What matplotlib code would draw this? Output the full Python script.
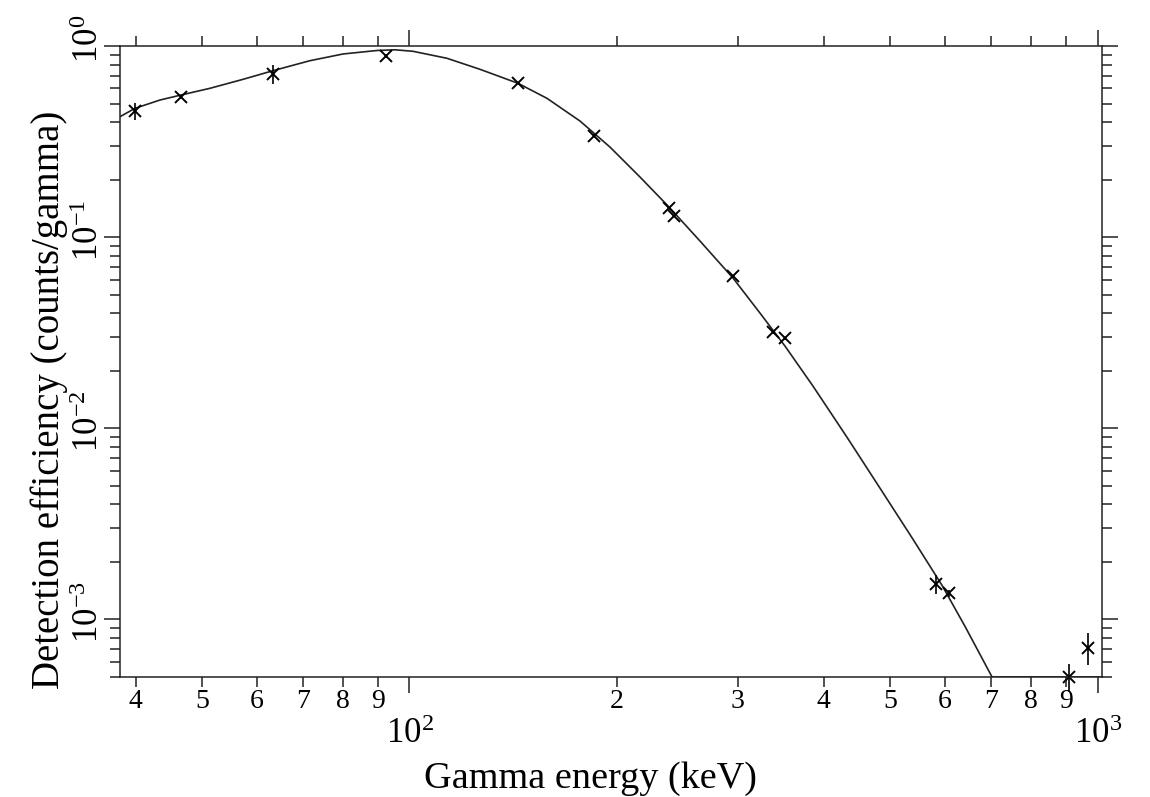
import numpy as np
import matplotlib
matplotlib.use('Agg')
import matplotlib.pyplot as plt
from matplotlib.ticker import LogLocator, FuncFormatter, NullFormatter
from matplotlib.transforms import ScaledTranslation

plt.rcParams['font.family'] = 'Liberation Serif'
plt.rcParams['mathtext.fontset'] = 'custom'
plt.rcParams['mathtext.rm'] = 'Liberation Serif'
plt.rcParams['mathtext.it'] = 'Liberation Serif:italic'

# measured efficiencies (keV, counts/gamma)
energy = [39.9, 46.5, 63.3, 92.4, 143.8, 185.4, 238.4, 242.0, 295.3,
          337.5, 351.5, 582.6, 608.0, 909.0, 969.0]
eff = [0.457, 0.543, 0.711, 0.890, 0.640, 0.340, 0.1419, 0.1288, 0.0625,
       0.0318, 0.0296, 1.535e-3, 1.368e-3, 5.0e-4, 7.13e-4]
eff_err = [0.045, 0.012, 0.08, 0.02, 0.01, 0.005, 0.002, 0.002, 0.001,
           0.0005, 0.0005, 0.17e-3, 0.05e-3, 0.85e-4, 1.37e-4]

# fitted efficiency curve
fit_e = [37.95, 39.91, 43.39, 46.54, 51.29, 57.29, 63.33, 71.67, 80.05,
         89.71, 95.26, 101.18, 113.38, 126.62, 143.81, 158.44, 176.93,
         195.60, 216.31, 238.35, 264.43, 295.32, 323.23, 351.42, 385.92,
         432.39, 482.98, 539.28, 594.29, 641.77, 702.43, 1015]
fit_eff = [0.4265, 0.4719, 0.5215, 0.5539, 0.6006, 0.6692, 0.7425, 0.8376,
           0.9081, 0.9472, 0.9552, 0.9381, 0.8622, 0.7549, 0.6378, 0.5322,
           0.4049, 0.2959, 0.2061, 0.1436, 0.0953, 0.0610, 0.0400, 0.02688,
           0.01660, 8.97e-3, 4.852e-3, 2.623e-3, 1.506e-3, 9.19e-4, 5.0e-4,
           5.0e-4]

fig = plt.figure(figsize=(11.5, 7.97), dpi=100)
ax = fig.add_axes([0.1043, 0.1506, 0.854, 0.7917])

ax.plot(fit_e, fit_eff, color='#222222', lw=1.2)
ax.errorbar(energy, eff, yerr=eff_err, fmt='x', color='black', ms=8, mew=1.4,
            elinewidth=1.2, capsize=0, clip_on=False)

ax.set_xscale('log')
ax.set_yscale('log')
ax.set_xlim(37.95, 1015)
ax.set_ylim(5e-4, 1)

def lead_digit(v, pos):
    d = int(round(v / 10 ** np.floor(np.log10(v))))
    return '' if d == 1 else str(d)

def power_label(v, pos):
    return r'$\mathregular{10^{%d}}$' % round(np.log10(v))

ax.xaxis.set_major_locator(LogLocator(base=10))
ax.xaxis.set_minor_locator(LogLocator(base=10, subs=np.arange(2, 10)))
ax.xaxis.set_major_formatter(FuncFormatter(power_label))
ax.xaxis.set_minor_formatter(FuncFormatter(lead_digit))
ax.yaxis.set_major_locator(LogLocator(base=10))
ax.yaxis.set_minor_locator(LogLocator(base=10, subs=np.arange(2, 10)))
ax.yaxis.set_major_formatter(FuncFormatter(power_label))
ax.yaxis.set_minor_formatter(NullFormatter())

ax.tick_params(which='both', direction='out', top=True, right=True,
               labeltop=False, labelright=False, color='#222222', width=1.1)
ax.tick_params(which='major', length=11.5)
ax.tick_params(which='minor', length=7.2)
ax.tick_params(axis='x', which='major', labelsize=25, pad=18)
ax.tick_params(axis='x', which='minor', labelsize=20, pad=1.5)
ax.tick_params(axis='y', which='major', labelsize=25, pad=-1.5, labelrotation=90)

for s in ax.spines.values():
    s.set_linewidth(1.1)
    s.set_color('#222222')

ax.set_xlabel('Gamma energy (keV)', fontsize=27.5)
ax.set_ylabel('Detection efficiency (counts/gamma)', fontsize=28)
ax.xaxis.set_label_coords(0.479, -0.133)
ax.yaxis.set_label_coords(-0.053, 0.44)

# centre the "10" part of the rotated y labels on the tick
fig.canvas.draw()
shift = ScaledTranslation(0, 5 / 72, fig.dpi_scale_trans)
for t in ax.yaxis.get_major_ticks():
    t.label1.set_va('center')
    t.label1.set_transform(t.label1.get_transform() + shift)

fig.savefig('out.png', dpi=100)
